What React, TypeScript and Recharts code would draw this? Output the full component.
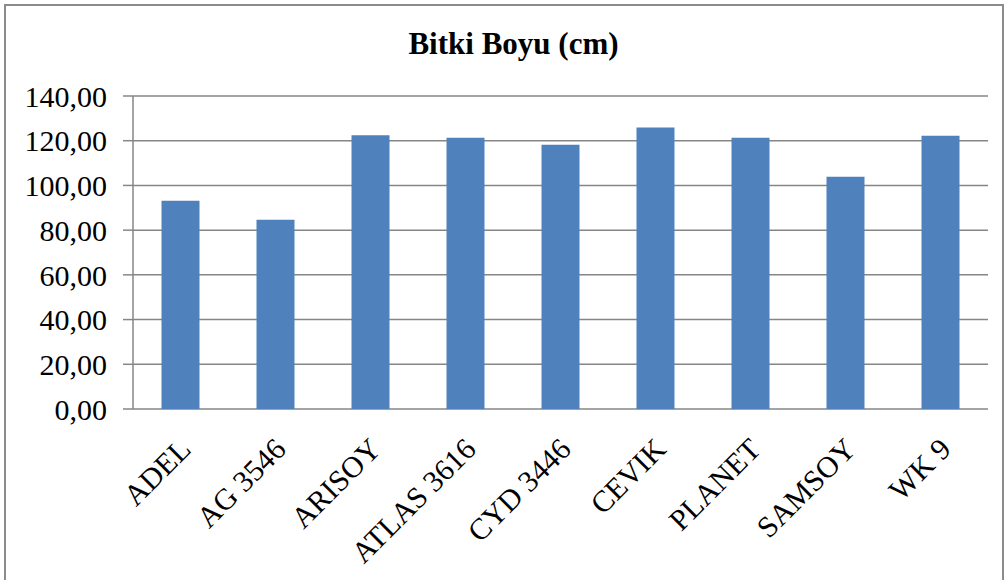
import { BarChart, Bar, XAxis, YAxis, CartesianGrid } from 'recharts';

const varieties = ['ADEL', 'AG 3546', 'ARISOY', 'ATLAS 3616', 'CYD 3446', 'CEVIK', 'PLANET', 'SAMSOY', 'WK 9'];
const heights = [93.2, 84.7, 122.5, 121.3, 118.2, 125.9, 121.3, 103.9, 122.2];
const yTicks = [0, 20, 40, 60, 80, 100, 120, 140];
const boundaryTicks = [0, 1, 2, 3, 4, 5, 6, 7, 8, 9];

const data = varieties.map((name, i) => ({ name, height: heights[i] }));

const font = '"Liberation Serif", "Times New Roman", serif';
const grey = '#868686';

const fmt = (v: number) => v.toFixed(2).replace('.', ',');

function CategoryTick(props: any) {
  const { x, y, payload } = props;
  return (
    <g transform={`translate(${x + 12},${y + 42})`}>
      <text transform="rotate(-45)" textAnchor="end" fontFamily={font} fontSize={30} fill="#000">
        {payload.value}
      </text>
    </g>
  );
}

export default function App() {
  return (
    <div style={{ position: 'absolute', left: 0, top: 0, width: 1005, height: 580, overflow: 'hidden', background: '#fff' }}>
      <div
        style={{
          position: 'absolute',
          left: 4,
          top: 4,
          width: 996,
          height: 640,
          border: '2px solid #8c8c8c',
        }}
      />
      <div
        style={{
          position: 'absolute',
          top: 26,
          left: 0,
          width: 1027,
          textAlign: 'center',
          fontFamily: font,
          fontWeight: 'bold',
          fontSize: 31,
          lineHeight: '36px',
        }}
      >
        Bitki Boyu (cm)
      </div>
      <div style={{ position: 'absolute', left: 0, top: 0 }}>
        <BarChart
          width={1005}
          height={580}
          data={data}
          margin={{ top: 96, right: 17, bottom: 0, left: 0 }}
          barCategoryGap="30%"
        >
          <CartesianGrid vertical={false} stroke={grey} strokeWidth={1.5} />
          <XAxis
            xAxisId="bounds"
            type="number"
            domain={[0, 9]}
            ticks={boundaryTicks}
            allowDataOverflow
            tick={false}
            tickSize={8}
            height={0}
            stroke={grey}
            strokeWidth={1.5}
          />
          <XAxis
            dataKey="name"
            interval={0}
            axisLine={false}
            tickLine={false}
            tickSize={0}
            tickMargin={0}
            height={171}
            tick={<CategoryTick />}
          />
          <YAxis
            domain={[0, 140]}
            ticks={yTicks}
            tickFormatter={fmt}
            width={133}
            tickSize={10}
            tickMargin={16}
            stroke={grey}
            strokeWidth={1.5}
            tick={{ fill: '#000', fontFamily: font, fontSize: 30 }}
          />
          <Bar dataKey="height" fill="#4F81BD" isAnimationActive={false} />
        </BarChart>
      </div>
    </div>
  );
}
